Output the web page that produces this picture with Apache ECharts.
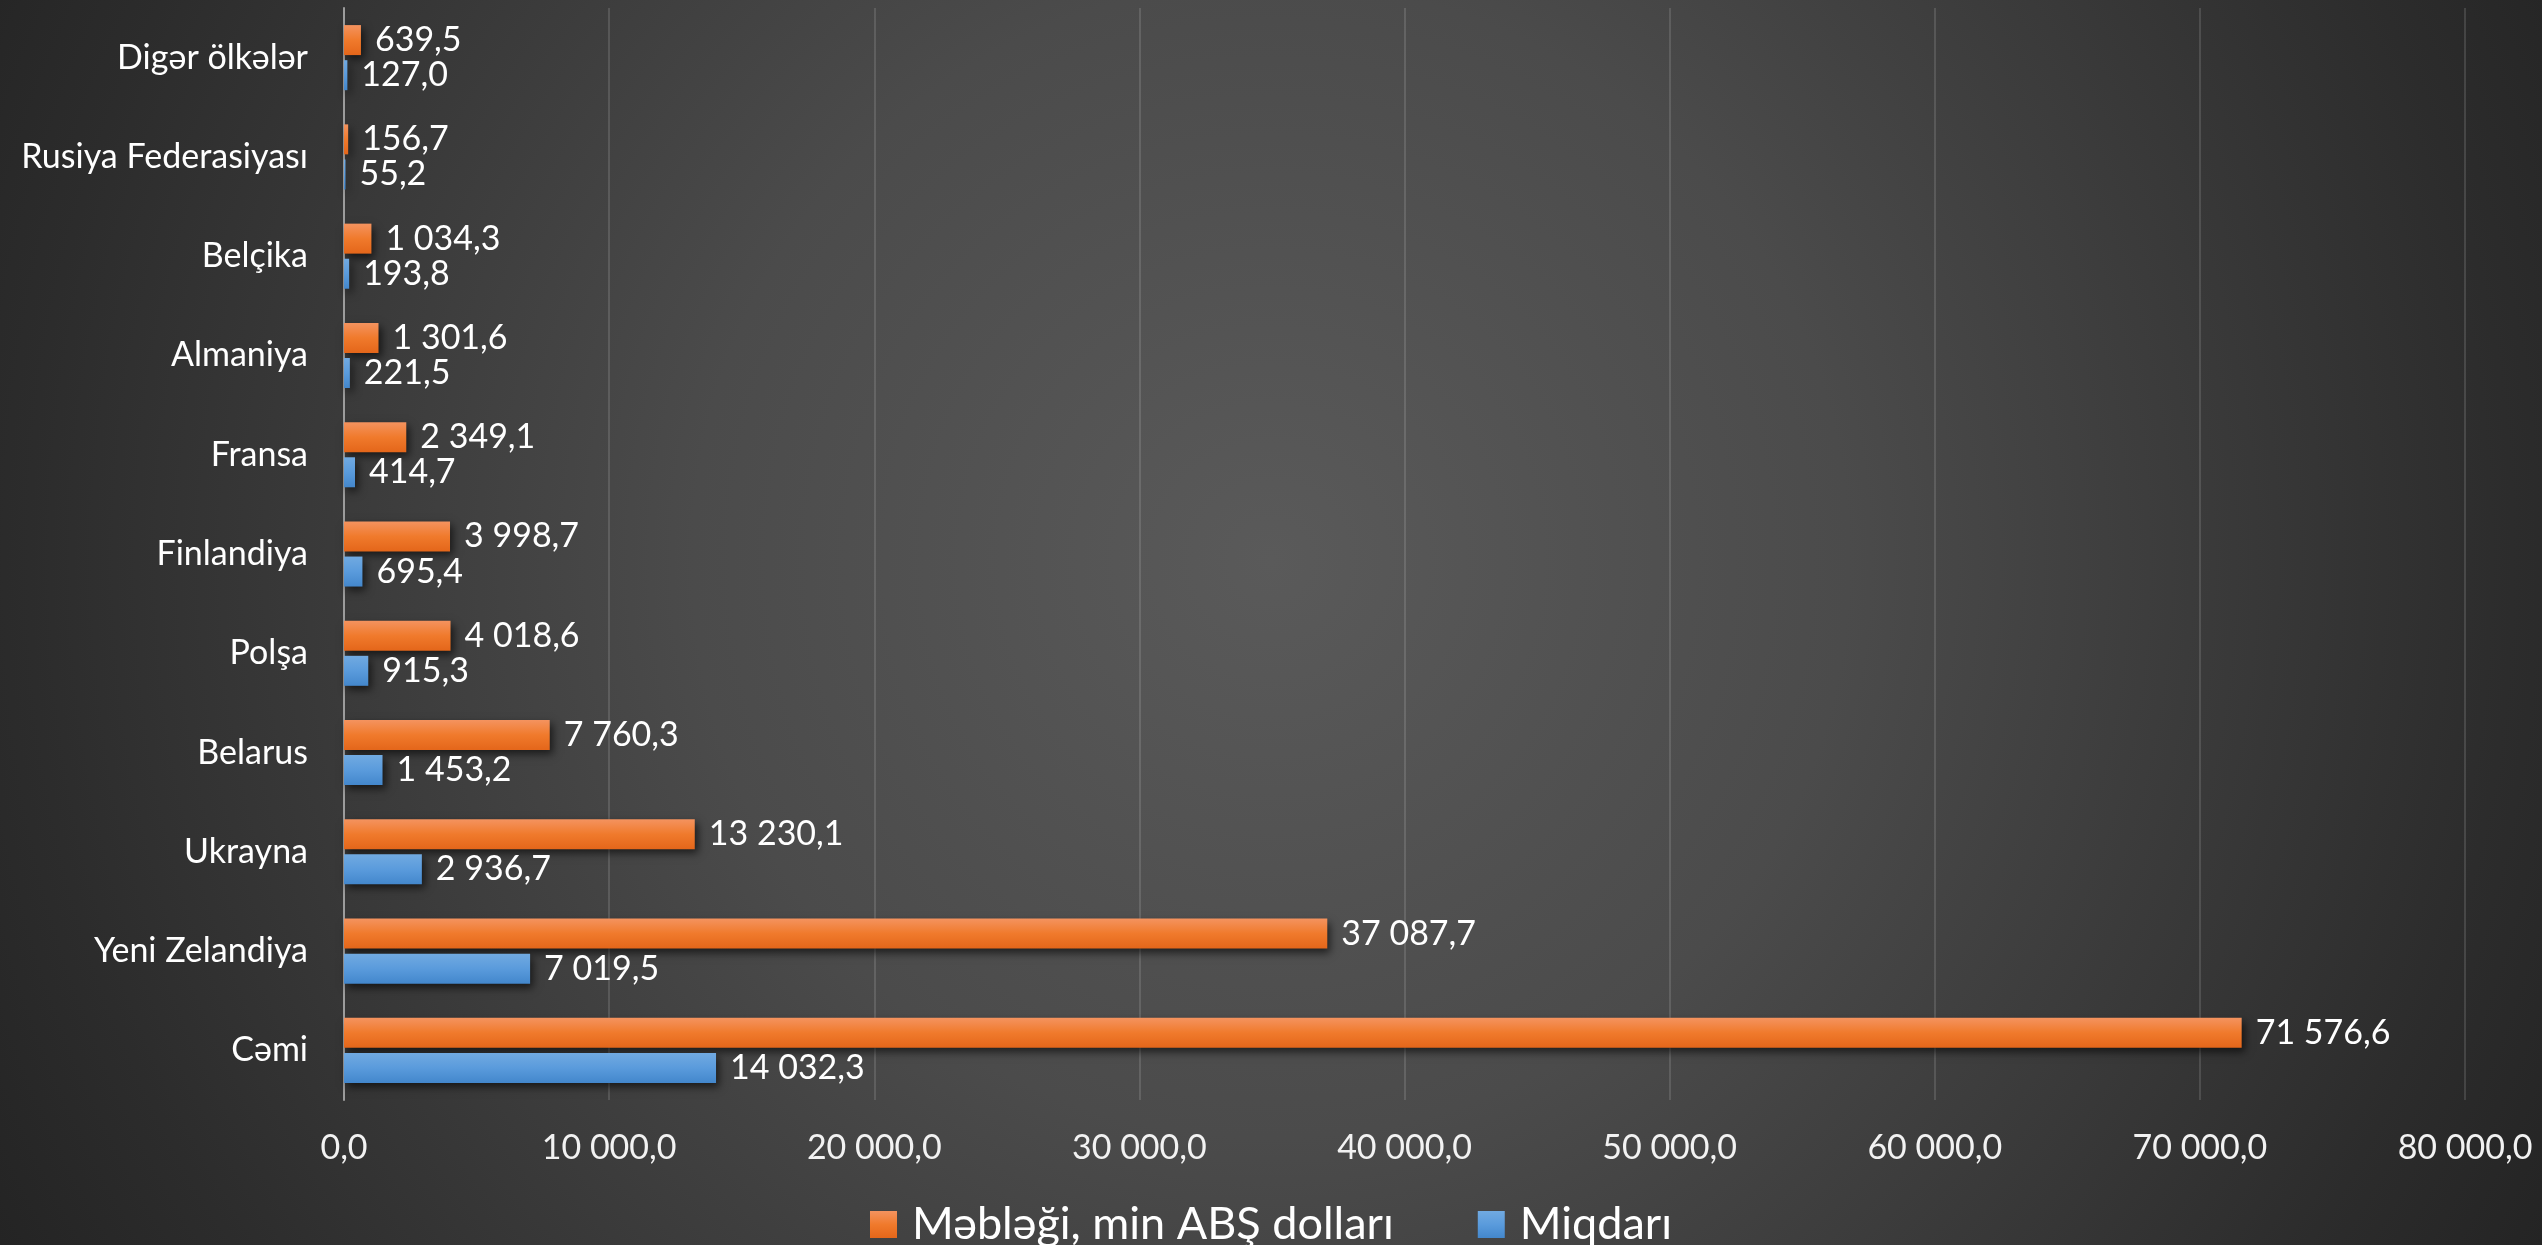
<!DOCTYPE html>
<html>
<head>
<meta charset="utf-8">
<script src="https://cdn.jsdelivr.net/npm/echarts@6/dist/echarts.min.js"></script>
<style>
html,body{margin:0;padding:0;width:100%;height:100%;overflow:hidden;}
#chart{width:2542px;height:1245px;background:radial-gradient(circle farthest-corner at 50% 45%, #5a5a5a 0%, #4b4b4b 40%, #2c2c2c 86%, #242424 100%);}
</style>
</head>
<body>
<div id="chart"></div>
<script>
const categories = ['Cəmi','Yeni Zelandiya','Ukrayna','Belarus','Polşa','Finlandiya','Fransa','Almaniya','Belçika','Rusiya Federasiyası','Digər ölkələr'];
const amountValues = [71576.6,37087.7,13230.1,7760.3,4018.6,3998.7,2349.1,1301.6,1034.3,156.7,639.5];
const quantityValues = [14032.3,7019.5,2936.7,1453.2,915.3,695.4,414.7,221.5,193.8,55.2,127.0];
const seriesNames = ['Məbləği, min ABŞ dolları','Miqdarı'];
const xTicks = {min:0,max:80000,interval:10000};

const FONT = 'Lato, "Open Sans", "Liberation Sans", sans-serif';
function fmt(v){
  const s = Number(v).toFixed(1);
  const parts = s.split('.');
  return parts[0].replace(/\B(?=(\d{3})+(?!\d))/g,' ') + ',' + parts[1];
}
const orangeGrad = new echarts.graphic.LinearGradient(0,0,0,1,[
  {offset:0,color:'#f4935f'},{offset:0.5,color:'#f07a2c'},{offset:1,color:'#e4661a'}]);
const blueGrad = new echarts.graphic.LinearGradient(0,0,0,1,[
  {offset:0,color:'#71aae1'},{offset:0.5,color:'#5a9bdc'},{offset:1,color:'#4387cc'}]);

const chart = echarts.init(document.getElementById('chart'), null, {renderer:'canvas'});
const labelCommon = {
  show:true, position:'right', distance:14, color:'#ffffff',
  fontFamily:FONT, fontSize:34, formatter:p=>fmt(p.value)
};
const shadow = {shadowColor:'rgba(0,0,0,0.6)', shadowBlur:8, shadowOffsetX:3, shadowOffsetY:4};
chart.setOption({
  backgroundColor:'transparent',
  animation:false,
  grid:{left:344,right:77,top:8,bottom:145,containLabel:false},
  legend:{
    data:seriesNames, bottom:-7, left:'center', itemWidth:27, itemHeight:27, itemGap:84,
    icon:'rect',
    textStyle:{color:'#ffffff',fontFamily:FONT,fontSize:45,padding:[0,0,0,10]}
  },
  xAxis:{
    type:'value', min:xTicks.min, max:xTicks.max, interval:xTicks.interval,
    axisLine:{show:false}, axisTick:{show:false},
    splitLine:{show:true,lineStyle:{color:'rgba(255,255,255,0.13)',width:2}},
    axisLabel:{color:'#f2f2f2',fontFamily:FONT,fontSize:34,margin:31,formatter:v=>fmt(v)}
  },
  yAxis:{
    type:'category', data:categories,
    axisLine:{show:true,lineStyle:{color:'#9c9c9c',width:2}},
    axisTick:{show:false},
    axisLabel:{color:'#ffffff',fontFamily:FONT,fontSize:34,margin:36}
  },
  series:[
    {name:seriesNames[0], type:'bar', data:amountValues, barWidth:30, barGap:'17%',
     itemStyle:Object.assign({color:orangeGrad},shadow), label:labelCommon},
    {name:seriesNames[1], type:'bar', data:quantityValues, barWidth:30, barGap:'17%',
     itemStyle:Object.assign({color:blueGrad},shadow), label:labelCommon}
  ]
});
</script>
</body>
</html>
